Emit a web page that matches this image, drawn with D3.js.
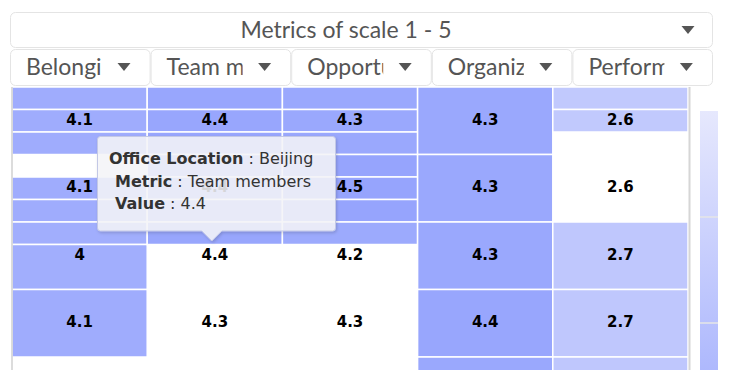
<!DOCTYPE html>
<html>
<head>
<meta charset="utf-8">
<script src="https://cdn.jsdelivr.net/npm/d3@7"></script>
<style>
  body { margin: 0; background: #fff; }
  svg { display: block; }
</style>
</head>
<body>
<div id="chart"></div>
<script>
// metrics (columns) and office locations (rows)
var metrics = ["Belonging", "Team members", "Opportunities", "Organization", "Performance"];
var offices = ["Shanghai", "Beijing", "Shenzhen", "Guangzhou", "Hong Kong"];

// cell values per metric, one per office
var belonging     = [4.1, 4.1, 4,   4.1, null];
var teamMembers   = [4.4, 4.4, 4.4, 4.3, null];
var opportunities = [4.3, 4.5, 4.2, 4.3, null];
var organization  = [4.3, 4.3, 4.3, 4.4, 4.3];
var performance   = [2.6, 2.6, 2.7, 2.7, 2.7];

// cells are still animating: fill per sub-row (3 per office), same id = one cell, 0 = empty
var belongingFill     = [1, 2, 3, 0, 4, 5, 6, 7, 7, 8, 8, 8, 0, 0, 0];
var teamMembersFill   = [1, 2, 3, 4, 5, 6, 7, 0, 0, 0, 0, 0, 0, 0, 0];
var opportunitiesFill = [1, 2, 3, 4, 5, 6, 7, 0, 0, 0, 0, 0, 0, 0, 0];
var organizationFill  = [1, 1, 1, 2, 2, 2, 3, 3, 3, 4, 4, 4, 5, 5, 5];
var performanceFill   = [1, 2, 0, 0, 0, 0, 3, 3, 3, 4, 4, 4, 5, 5, 5];

var colorTicks = [1, 2, 3, 4, 5];
var scaleTitle = "Metrics of scale 1 - 5";
var tooltipRow = 1, tooltipCol = 1;

var values = [belonging, teamMembers, opportunities, organization, performance];
var fills = [belongingFill, teamMembersFill, opportunitiesFill, organizationFill, performanceFill];

var width = 736, height = 370;

var svg = d3.select("#chart")
  .append("svg")
    .attr("width", width)
    .attr("height", height);

var defs = svg.append("defs");

// ---- dropdowns ----
var ddFont = "Lato, 'Open Sans', sans-serif";

function arrow(g, cx, cy) {
  g.append("path")
    .attr("d", "M" + (cx - 6.5) + "," + (cy - 4) + "L" + (cx + 6.5) + "," + (cy - 4) + "L" + cx + "," + (cy + 4) + "Z")
    .attr("fill", "#555");
}

var scaleDd = svg.append("g");
scaleDd.append("rect")
  .attr("x", 10.5).attr("y", 12.5)
  .attr("width", 702).attr("height", 35)
  .attr("rx", 5)
  .attr("fill", "#fff")
  .attr("stroke", "#e4e4e4");
scaleDd.append("text")
  .attr("x", 346).attr("y", 38)
  .attr("text-anchor", "middle")
  .style("font-family", ddFont)
  .style("font-size", "23px")
  .attr("fill", "#555")
  .text(scaleTitle);
arrow(scaleDd, 688, 30);

var ddX = d3.scaleBand().domain(metrics).range([10, 713]);

var dd = svg.selectAll(".dd")
  .data(metrics)
  .enter().append("g")
    .attr("class", "dd")
    .attr("transform", function(d) { return "translate(" + ddX(d) + ",49)"; });

// labels are cut short before the arrow
dd.append("clipPath")
    .attr("id", function(d, i) { return "ddclip" + i; })
  .append("rect")
    .attr("x", 0).attr("y", 0)
    .attr("width", 92).attr("height", 36);

dd.append("rect")
  .attr("x", 0.5).attr("y", 0.5)
  .attr("width", ddX.bandwidth() - 1).attr("height", 36)
  .attr("rx", 5)
  .attr("fill", "#fff")
  .attr("stroke", "#e4e4e4");

dd.append("text")
  .attr("x", 16).attr("y", 26)
  .attr("clip-path", function(d, i) { return "url(#ddclip" + i + ")"; })
  .style("font-family", ddFont)
  .style("font-size", "23px")
  .attr("fill", "#555")
  .text(function(d) { return d; });

dd.each(function() { arrow(d3.select(this), 114, 18); });

// ---- heatmap ----
var x = d3.scaleBand().domain(metrics).range([12, 688]);
var y = d3.scaleBand().domain(offices).range([87, 87 + 5 * 67.5]);
var ySub = d3.scaleBand().domain(d3.range(offices.length * 3)).range(y.range());

var color = d3.scaleLinear().domain([1, 5]).range(["#e6e8fd", "#8a9afd"]);

// merge sub-rows with the same id into one cell
var cells = [];
fills.forEach(function(f, ci) {
  var i = 0;
  while (i < f.length) {
    if (f[i] === 0) { i++; continue; }
    var j = i;
    while (j + 1 < f.length && f[j + 1] === f[i]) j++;
    var row = Math.floor(i / 3);
    cells.push({ metric: metrics[ci], start: i, end: j, value: values[ci][row] });
    i = j + 1;
  }
});

svg.append("g")
  .selectAll("rect")
  .data(cells)
  .enter().append("rect")
    .attr("x", function(d) { return x(d.metric); })
    .attr("y", function(d) { return ySub(d.start); })
    .attr("width", x.bandwidth())
    .attr("height", function(d) { return ySub(d.end) + ySub.bandwidth() - ySub(d.start); })
    .attr("fill", function(d) { return color(d.value); })
    .attr("stroke", "#fff")
    .attr("stroke-width", 1.5);

// data labels (only those whose cell centre is inside the visible plot)
var labels = [];
values.forEach(function(v, ci) {
  v.forEach(function(val, ri) {
    var cy = y(offices[ri]) + y.bandwidth() / 2;
    if (val !== null && cy < height) labels.push({ metric: metrics[ci], office: offices[ri], value: val });
  });
});

svg.append("g")
  .selectAll("text")
  .data(labels)
  .enter().append("text")
    .attr("x", function(d) { return x(d.metric) + x.bandwidth() / 2; })
    .attr("y", function(d) { return y(d.office) + y.bandwidth() / 2 + 4; })
    .attr("text-anchor", "middle")
    .style("font-family", "'DejaVu Sans', sans-serif")
    .style("font-weight", "bold")
    .style("font-size", "15px")
    .attr("fill", "#000")
    .text(function(d) { return d.value; });

// plot borders
svg.append("line")
  .attr("x1", 12).attr("x2", 12).attr("y1", 87).attr("y2", height)
  .attr("stroke", "#d0d0d0").attr("stroke-width", 1.5);
svg.append("line")
  .attr("x1", 689.5).attr("x2", 689.5).attr("y1", 87).attr("y2", height)
  .attr("stroke", "#d6d6d6").attr("stroke-width", 2);

// ---- color axis ----
var legendY = d3.scaleLinear().domain([1, 5]).range([111, 111 + 4 * 106]);
var grad = defs.append("linearGradient")
  .attr("id", "legend-grad")
  .attr("x1", 0).attr("x2", 0).attr("y1", 0).attr("y2", 1);
grad.append("stop").attr("offset", "0%").attr("stop-color", color(1));
grad.append("stop").attr("offset", "100%").attr("stop-color", color(5));

svg.append("rect")
  .attr("x", 700).attr("y", legendY(1))
  .attr("width", 18).attr("height", legendY(5) - legendY(1))
  .attr("fill", "url(#legend-grad)");

svg.append("g")
  .selectAll("line")
  .data(colorTicks.slice(1))
  .enter().append("line")
    .attr("x1", 700).attr("x2", 718)
    .attr("y1", function(d) { return legendY(d); })
    .attr("y2", function(d) { return legendY(d); })
    .attr("stroke", "#e6e6e6")
    .attr("stroke-width", 1.5);

// ---- tooltip ----
var shadow = defs.append("filter").attr("id", "tt-shadow")
  .attr("x", "-10%").attr("y", "-10%").attr("width", "130%").attr("height", "140%");
shadow.append("feDropShadow")
  .attr("dx", 1).attr("dy", 1.5).attr("stdDeviation", 1.5)
  .attr("flood-color", "#000").attr("flood-opacity", 0.18);

var tx = x(metrics[tooltipCol]) + x.bandwidth() / 2 - 3,
    tyTip = y(offices[tooltipRow]) + y.bandwidth() + 19;
var boxL = 97.5, boxR = 335.5, boxT = 136.5, boxB = tyTip - 10;

var tt = svg.append("g");
tt.append("path")
  .attr("d", "M" + (boxL + 3) + "," + boxT +
    "L" + (boxR - 3) + "," + boxT + "Q" + boxR + "," + boxT + " " + boxR + "," + (boxT + 3) +
    "L" + boxR + "," + (boxB - 3) + "Q" + boxR + "," + boxB + " " + (boxR - 3) + "," + boxB +
    "L" + (tx + 10) + "," + boxB + "L" + tx + "," + tyTip + "L" + (tx - 10) + "," + boxB +
    "L" + (boxL + 3) + "," + boxB + "Q" + boxL + "," + boxB + " " + boxL + "," + (boxB - 3) +
    "L" + boxL + "," + (boxT + 3) + "Q" + boxL + "," + boxT + " " + (boxL + 3) + "," + boxT + "Z")
  .attr("fill", "rgba(247,247,250,0.85)")
  .attr("stroke", "#c3c8e6")
  .attr("stroke-width", 1)
  .attr("filter", "url(#tt-shadow)");

var ttLines = [
  ["Office Location", " : " + offices[tooltipRow], 0],
  ["Metric", " : " + metrics[tooltipCol], 1],
  ["Value", " : " + values[tooltipCol][tooltipRow], 1]
];

var ttText = tt.append("text")
  .style("font-family", "'DejaVu Sans', Verdana, sans-serif")
  .style("font-size", "16px")
  .style("white-space", "pre")
  .attr("fill", "#333");

ttLines.forEach(function(l, i) {
  ttText.append("tspan")
    .attr("x", 109 + l[2] * 6)
    .attr("y", 164 + i * 22.5)
    .style("font-weight", "bold")
    .text(l[0]);
  ttText.append("tspan").text(l[1]);
});
</script>
</body>
</html>
